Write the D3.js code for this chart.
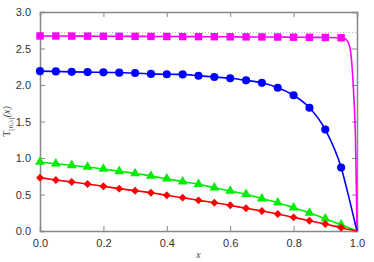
<!DOCTYPE html>
<html>
  <head>
    <meta charset="utf-8">
    <script src="https://d3js.org/d3.v7.min.js"></script>
    <style>
      body { margin: 0; background: #fff; }
      .tick-label { font-family: "Liberation Sans", Arial, sans-serif; font-size: 11px; fill: #333; }
    </style>
  </head>
  <body>
    <div id="chart"></div>
    <script>
      // marker positions (x = 0 .. 0.95)
      const xs = d3.range(20).map(i => i * 0.05);

      const magentaY = [2.672, 2.671, 2.670, 2.669, 2.668, 2.667, 2.666, 2.665, 2.664, 2.663,
                        2.662, 2.661, 2.660, 2.659, 2.658, 2.657, 2.655, 2.653, 2.651, 2.647];
      const blueY = [2.19, 2.186, 2.18, 2.177, 2.173, 2.169, 2.164, 2.152, 2.147, 2.145,
                     2.127, 2.11, 2.092, 2.064, 2.03, 1.963, 1.859, 1.689, 1.39, 0.87];
      const greenY = [0.945, 0.922, 0.9, 0.877, 0.849, 0.818, 0.79, 0.753, 0.716, 0.676,
                      0.64, 0.593, 0.548, 0.503, 0.443, 0.388, 0.319, 0.249, 0.168, 0.086];
      const redY = [0.73, 0.699, 0.671, 0.644, 0.612, 0.58, 0.552, 0.525, 0.489, 0.457,
                    0.42, 0.388, 0.352, 0.311, 0.274, 0.233, 0.187, 0.141, 0.096, 0.045];

      // extra line-only points between 0.95 and 1.0
      const magentaTailX = [0.96, 0.97, 0.98, 0.985, 0.99, 0.995, 0.998, 1.0];
      const magentaTailY = [2.64, 2.60, 2.45, 2.22, 1.85, 1.3, 0.6, 0];
      const blueTailX = [0.975, 1.0];
      const blueTailY = [0.45, 0];

      const xTicks = [0, 0.2, 0.4, 0.6, 0.8, 1.0];
      const yTicks = [0, 0.5, 1.0, 1.5, 2.0, 2.5, 3.0];
      const eLine = 2.718;

      const width = 374, height = 262;
      const margin = { left: 40, right: 17, top: 12, bottom: 31 };
      const innerW = width - margin.left - margin.right;
      const innerH = height - margin.top - margin.bottom;

      const svg = d3.select('#chart').append('svg')
        .attr('width', width).attr('height', height);
      const g = svg.append('g')
        .attr('transform', `translate(${margin.left},${margin.top})`);

      const x = d3.scaleLinear().domain([0, 1]).range([0, innerW]);
      const y = d3.scaleLinear().domain([0, 3]).range([innerH, 0]);

      // dotted reference line
      g.append('line')
        .attr('x1', 0).attr('x2', innerW)
        .attr('y1', y(eLine)).attr('y2', y(eLine))
        .attr('stroke', '#bbb').attr('stroke-width', 1)
        .attr('stroke-dasharray', '1,2');

      const axisColor = '#888';
      const tickLen = 5;

      // axes with inward ticks
      const xAxis = g.append('g').attr('transform', `translate(0,${innerH})`)
        .call(d3.axisBottom(x).tickValues(xTicks).tickFormat(d3.format('.1f'))
          .tickSize(-tickLen).tickPadding(10));
      const xTop = g.append('g')
        .call(d3.axisTop(x).tickValues(xTicks).tickFormat('').tickSize(-tickLen));
      const yAxis = g.append('g')
        .call(d3.axisLeft(y).tickValues(yTicks).tickFormat(d3.format('.1f'))
          .tickSize(-tickLen).tickPadding(9));
      const yRight = g.append('g').attr('transform', `translate(${innerW},0)`)
        .call(d3.axisRight(y).tickValues(yTicks).tickFormat('').tickSize(-tickLen));

      [xAxis, xTop, yAxis, yRight].forEach(a => {
        a.select('.domain').attr('stroke', axisColor).attr('stroke-width', 1.5);
        a.selectAll('.tick line').attr('stroke', axisColor).attr('stroke-width', 1);
        a.selectAll('.tick text').attr('class', 'tick-label');
      });
      xAxis.selectAll('.tick text').attr('dy', '0.5em');

      const series = [
        { ys: magentaY, tx: magentaTailX, ty: magentaTailY, color: '#ff00ff', sym: d3.symbolSquare, size: 55 },
        { ys: blueY, tx: blueTailX, ty: blueTailY, color: '#0000ff', sym: d3.symbolCircle, size: 52 },
        { ys: greenY, tx: [1.0], ty: [0], color: '#00ee00', sym: d3.symbolTriangle, size: 42 },
        { ys: redY, tx: [1.0], ty: [0], color: '#ff0000', sym: d3.symbolDiamond2, size: 40 }
      ];

      const line = d3.line().x(d => x(d[0])).y(d => y(d[1])).curve(d3.curveMonotoneX);

      series.forEach(s => {
        const pts = xs.map((xv, i) => [xv, s.ys[i]])
          .concat(s.tx.map((xv, i) => [xv, s.ty[i]]));
        g.append('path').datum(pts)
          .attr('fill', 'none').attr('stroke', s.color).attr('stroke-width', 1.6)
          .attr('d', line);
        g.selectAll(null).data(xs.map((xv, i) => [xv, s.ys[i]])).enter()
          .append('path')
          .attr('transform', d => `translate(${x(d[0])},${y(d[1])})`)
          .attr('d', d3.symbol().type(s.sym).size(s.size))
          .attr('fill', s.color);
      });

      // axis labels
      svg.append('text')
        .attr('x', margin.left + innerW / 2).attr('y', 258)
        .attr('text-anchor', 'middle')
        .style('font-family', '"Liberation Serif", serif').style('font-style', 'italic')
        .style('font-size', '10px').style('fill', '#444')
        .text('x');

      const yl = svg.append('text')
        .attr('transform', `translate(10,${margin.top + innerH / 2}) rotate(-90)`)
        .attr('text-anchor', 'middle')
        .style('font-family', '"Liberation Serif", serif')
        .style('font-size', '10px').style('fill', '#444');
      yl.append('tspan').text('T');
      yl.append('tspan').attr('dy', 3).style('font-size', '7px').text('[0,λ]');
      yl.append('tspan').attr('dy', -3).style('font-style', 'italic').text('(x)');
    </script>
  </body>
</html>
